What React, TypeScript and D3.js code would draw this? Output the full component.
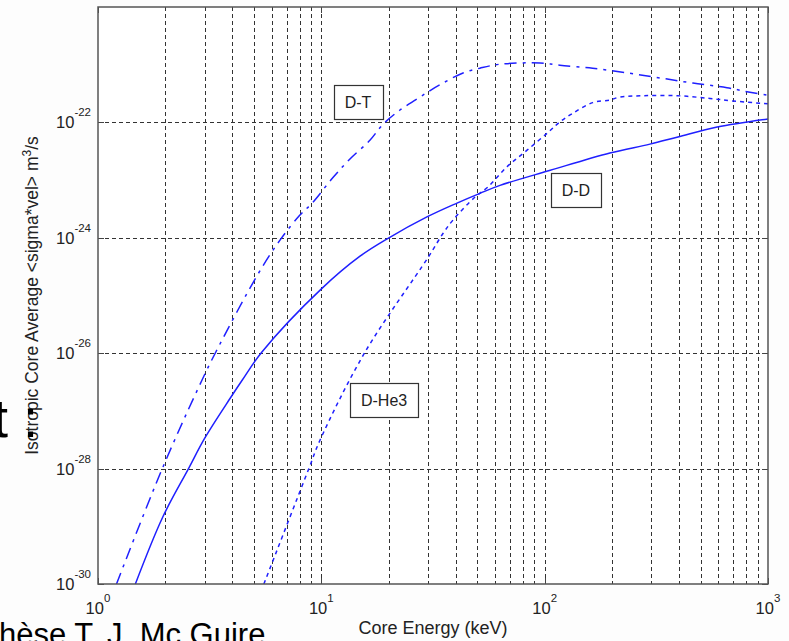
import { useEffect, useRef } from 'react';
import * as d3 from 'd3';

const W = 789;
const H = 641;
const margin = { top: 7, right: 21, bottom: 57, left: 98 };

// D-T reactivity (dash-dot)
const energyDT = [1.21, 1.94, 2.92, 3.37, 5.2, 6.53, 8.0, 9.1, 11.3, 13.4, 16.5, 18.9, 22.5, 26.8, 30.1, 34.0, 43.1, 51.3, 63.1, 95.3, 117, 164, 234, 328, 461, 655, 805, 1000];
const sigvDT = [1.0e-30, 1.0e-28, 3.4e-27, 1.05e-26, 2.34e-25, 9.1e-25, 2.45e-24, 4.0e-24, 1.12e-23, 2.3e-23, 4.9e-23, 9.3e-23, 1.64e-22, 2.54e-22, 3.4e-22, 4.5e-22, 7.2e-22, 8.7e-22, 1.02e-21, 1.07e-21, 9.8e-22, 8.7e-22, 7.2e-22, 5.9e-22, 4.8e-22, 4.0e-22, 3.4e-22, 2.95e-22];

// D-D reactivity (solid)
const energyDD = [1.47, 1.95, 2.55, 3.01, 3.94, 4.42, 5.42, 9.98, 14.9, 19.9, 29.7, 40.5, 51.3, 63.1, 106, 196, 296, 395, 592, 1000];
const sigvDD = [1.0e-30, 1.45e-29, 1.02e-28, 3.4e-28, 1.74e-27, 3.4e-27, 1.05e-26, 1.29e-25, 4.8e-25, 9.8e-25, 2.3e-24, 4.0e-24, 5.9e-24, 8.1e-24, 1.48e-23, 2.95e-23, 4.2e-23, 5.6e-23, 8.3e-23, 1.15e-22];

// D-He3 reactivity (dotted)
const energyDHe3 = [5.53, 8.81, 9.86, 15.7, 30.1, 35.1, 38.9, 48.8, 55.7, 67.8, 83.4, 104, 117, 134, 164, 196, 217, 275, 392, 550, 697, 1000];
const sigvDHe3 = [1.0e-30, 1.02e-28, 3.1e-28, 1.05e-26, 4.6e-25, 1.2e-24, 2.04e-24, 5.1e-24, 7.6e-24, 1.7e-23, 3.3e-23, 6.8e-23, 1.02e-22, 1.45e-22, 2.2e-22, 2.45e-22, 2.75e-22, 2.9e-22, 2.9e-22, 2.6e-22, 2.35e-22, 2.1e-22];

const xTickExponents = [0, 1, 2, 3];
const yTickExponents = [-30, -28, -26, -24, -22];

const labelNames = ['D-T', 'D-D', 'D-He3'];
const labelEnergy = [14.6, 138, 19.1];
const labelSigv = [2.3e-22, 6.8e-24, 1.55e-27];

const FONT = 'Arial, "Liberation Sans", Helvetica, sans-serif';
const BLUE = '#1f1fff';

const App = () => {
  const ref = useRef<SVGSVGElement | null>(null);

  useEffect(() => {
    const svg = d3.select(ref.current);
    svg.selectAll('*').remove();

    const x0 = margin.left;
    const x1 = W - margin.right;
    const y0 = margin.top;
    const y1 = H - margin.bottom;

    const x = d3.scaleLog().domain([1, 1000]).range([x0, x1]);
    const y = d3.scaleLog().domain([1e-30, 1e-20]).range([y1, y0]);

    svg.append('rect').attr('width', W).attr('height', H).attr('fill', '#fdfdfd');

    // slide text behind the figure, cut at the window edge
    svg.append('text')
      .attr('x', -20).attr('y', 645)
      .attr('font-family', FONT).attr('font-size', 31)
      .attr('fill', '#000')
      .text('Thèse T. J. Mc Guire');

    svg.append('rect')
      .attr('x', x0).attr('y', y0)
      .attr('width', x1 - x0).attr('height', y1 - y0)
      .attr('fill', '#fff');

    const grid = svg.append('g')
      .attr('stroke', '#333').attr('stroke-width', 1)
      .attr('stroke-dasharray', '4,3').attr('fill', 'none');

    // vertical grid at every log position
    const xGrid: number[] = [];
    for (let e = 0; e < 3; e++) {
      for (let k = 1; k <= 9; k++) {
        const v = k * Math.pow(10, e);
        if (v > 1) xGrid.push(v);
      }
    }
    xGrid.forEach((v) => {
      grid.append('line')
        .attr('x1', Math.round(x(v)) + 0.5).attr('x2', Math.round(x(v)) + 0.5)
        .attr('y1', y0).attr('y2', y1);
    });
    yTickExponents.slice(1).forEach((e) => {
      grid.append('line')
        .attr('x1', x0).attr('x2', x1)
        .attr('y1', Math.round(y(Math.pow(10, e))) + 0.5)
        .attr('y2', Math.round(y(Math.pow(10, e))) + 0.5);
    });

    // major ticks
    const ticks = svg.append('g').attr('stroke', '#444').attr('stroke-width', 1);
    xTickExponents.forEach((e) => {
      const px = Math.round(x(Math.pow(10, e))) + 0.5;
      ticks.append('line').attr('x1', px).attr('x2', px).attr('y1', y1).attr('y2', y1 - 6);
      ticks.append('line').attr('x1', px).attr('x2', px).attr('y1', y0).attr('y2', y0 + 6);
    });
    yTickExponents.forEach((e) => {
      const py = Math.round(y(Math.pow(10, e))) + 0.5;
      ticks.append('line').attr('x1', x0).attr('x2', x0 + 6).attr('y1', py).attr('y2', py);
      ticks.append('line').attr('x1', x1).attr('x2', x1 - 6).attr('y1', py).attr('y2', py);
    });

    // curves
    const clip = svg.append('clipPath').attr('id', 'plot-clip');
    clip.append('rect').attr('x', x0).attr('y', y0).attr('width', x1 - x0).attr('height', y1 - y0);

    const line = d3.line<[number, number]>()
      .x((d) => x(d[0]))
      .y((d) => y(d[1]))
      .curve(d3.curveCatmullRom.alpha(0.5));

    const series = [
      { e: energyDT, s: sigvDT, dash: '12,6,3,6' },
      { e: energyDD, s: sigvDD, dash: null },
      { e: energyDHe3, s: sigvDHe3, dash: '4,4' },
    ];
    const curves = svg.append('g').attr('clip-path', 'url(#plot-clip)');
    series.forEach((sr) => {
      const pts = sr.e.map((v, i) => [v, sr.s[i]] as [number, number]);
      curves.append('path')
        .attr('d', line(pts))
        .attr('fill', 'none')
        .attr('stroke', BLUE)
        .attr('stroke-width', 1.5)
        .attr('stroke-dasharray', sr.dash);
    });

    // box
    svg.append('rect')
      .attr('x', x0).attr('y', y0)
      .attr('width', x1 - x0).attr('height', y1 - y0)
      .attr('fill', 'none').attr('stroke', '#555').attr('stroke-width', 1.5);

    // x tick labels
    xTickExponents.forEach((e) => {
      const t = svg.append('text')
        .attr('x', x(Math.pow(10, e))).attr('y', 614)
        .attr('text-anchor', 'middle')
        .attr('font-family', FONT).attr('font-size', 16.5).attr('fill', '#222');
      t.append('tspan').text('10');
      t.append('tspan').attr('dy', -12).attr('font-size', 11.5).text(String(e));
    });

    // y tick labels
    yTickExponents.forEach((e) => {
      const py = y(Math.pow(10, e));
      const t = svg.append('text')
        .attr('x', x0 - 7).attr('y', py + 6)
        .attr('text-anchor', 'end')
        .attr('font-family', FONT).attr('font-size', 16.5).attr('fill', '#222');
      t.append('tspan').text('10');
      t.append('tspan').attr('dy', -12).attr('font-size', 11.5).text(String(e));
    });

    // axis labels
    svg.append('text')
      .attr('x', (x0 + x1) / 2).attr('y', 634)
      .attr('text-anchor', 'middle')
      .attr('font-family', FONT).attr('font-size', 18).attr('fill', '#222')
      .text('Core Energy (keV)');

    const yl = svg.append('text')
      .attr('transform', `translate(38,${(y0 + y1) / 2}) rotate(-90)`)
      .attr('text-anchor', 'middle')
      .attr('font-family', FONT).attr('font-size', 17.5).attr('fill', '#222');
    yl.append('tspan').text('Isotropic Core Average <sigma*vel> m');
    yl.append('tspan').attr('dy', -7).attr('font-size', 12).text('3');
    yl.append('tspan').attr('dy', 7).text('/s');

    // large slide text on top of the y label
    svg.append('text')
      .attr('x', -7).attr('y', 437)
      .attr('font-family', FONT).attr('font-size', 54)
      .attr('fill', '#000')
      .text('t :');

    // curve labels
    labelNames.forEach((name, i) => {
      const cx = x(labelEnergy[i]);
      const cy = y(labelSigv[i]);
      const g = svg.append('g');
      const t = g.append('text')
        .attr('x', cx).attr('y', cy + 6)
        .attr('text-anchor', 'middle')
        .attr('font-family', FONT).attr('font-size', 16).attr('fill', '#222')
        .text(name);
      const bb = (t.node() as SVGTextElement).getBBox();
      g.insert('rect', 'text')
        .attr('x', Math.round(bb.x - 11) + 0.5).attr('y', Math.round(cy - 17) + 0.5)
        .attr('width', Math.round(bb.width + 22)).attr('height', 34)
        .attr('fill', '#fff').attr('stroke', '#333').attr('stroke-width', 1.2);
    });
  }, []);

  return (
    <svg
      ref={ref}
      width={W}
      height={H}
      style={{ position: 'absolute', left: 0, top: 0, display: 'block' }}
    />
  );
};

export default App;
